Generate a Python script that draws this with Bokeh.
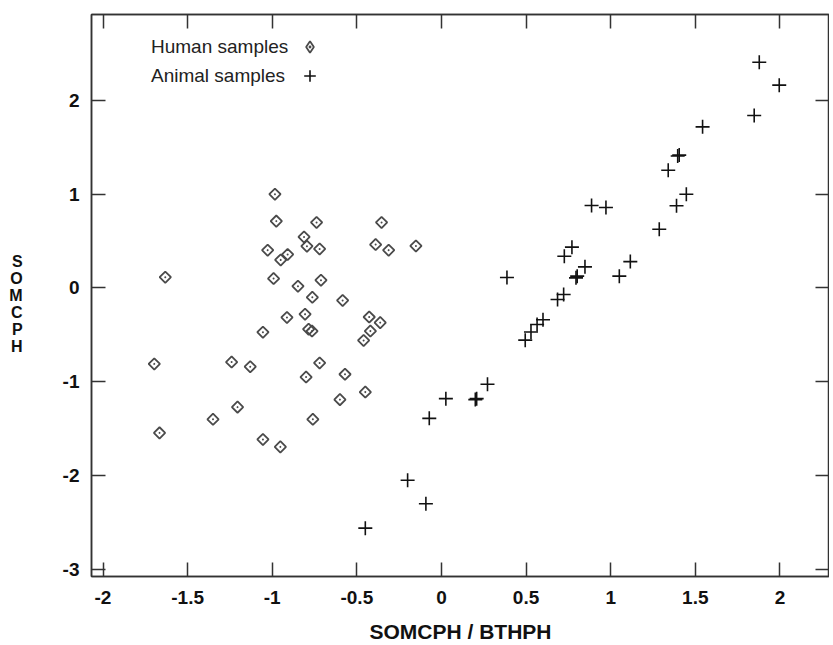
import numpy as np
from bokeh.plotting import figure
from bokeh.models import LinearAxis, FixedTicker, Range1d, Legend, LegendItem
from bokeh.embed import file_html
from bokeh.resources import INLINE

# ---- data ----
human_x = [-1.632, -1.697, -1.666, -1.350, -1.205, -1.240, -1.130, -1.055, -1.055, -1.027,
           -0.984, -0.976, -0.992, -0.950, -0.909, -0.952, -0.913, -0.848, -0.812, -0.795,
           -0.738, -0.720, -0.712, -0.763, -0.584, -0.806, -0.427, -0.362, -0.354, -0.389,
           -0.312, -0.151, -0.785, -0.765, -0.420, -0.460, -0.720, -0.800, -0.570, -0.450,
           -0.600, -0.760]
human_y = [0.114, -0.810, -1.545, -1.400, -1.270, -0.790, -0.840, -1.615, -0.472, 0.402,
           0.998, 0.711, 0.100, 0.298, 0.356, -1.694, -0.315, 0.018, 0.543, 0.444,
           0.697, 0.415, 0.082, -0.100, -0.134, -0.280, -0.310, -0.370, 0.697, 0.462,
           0.402, 0.447, -0.440, -0.460, -0.460, -0.560, -0.800, -0.950, -0.920, -1.110,
           -1.190, -1.400]

animal_x = [-0.450, -0.200, -0.092, -0.072, 0.026, 0.200, 0.208, 0.272, 0.387, 0.495,
            0.529, 0.565, 0.600, 0.686, 0.722, 0.726, 0.771, 0.795, 0.802, 0.848,
            0.887, 0.972, 1.051, 1.116, 1.287, 1.340, 1.389, 1.396, 1.405, 1.447,
            1.543, 1.848, 1.878, 1.996]
animal_y = [-2.560, -2.050, -2.300, -1.390, -1.180, -1.190, -1.180, -1.026, 0.111, -0.557,
            -0.470, -0.390, -0.340, -0.124, -0.070, 0.338, 0.434, 0.107, 0.125, 0.224,
            0.878, 0.857, 0.125, 0.280, 0.625, 1.254, 0.876, 1.405, 1.415, 0.997,
            1.716, 1.837, 2.405, 2.160]

x_ticks = [-2, -1.5, -1, -0.5, 0, 0.5, 1, 1.5, 2]
x_tick_labels = ["-2", "-1.5", "-1", "-0.5", "0", "0.5", "1", "1.5", "2"]
y_ticks = [-3, -2, -1, 0, 1, 2]
y_tick_labels = ["-3", "-2", "-1", "0", "1", "2"]

legend_labels = ["Human samples", "Animal samples"]
x_title = "SOMCPH / BTHPH"
y_title = "\nS\nO\nM\nC\nP\nH"

# ---- figure ----
FONT = "Liberation Sans"
INK = "#111111"
DIAMOND = "#4a4a4a"

p = figure(frame_width=738, frame_height=562,
           x_range=Range1d(-2.068, 2.293), y_range=Range1d(-3.075, 2.913),
           output_backend="svg", toolbar_location=None,
           min_border_left=91, min_border_top=14, min_border_right=0, min_border_bottom=66,
           background_fill_color="white", border_fill_color="white")
p.xgrid.visible = False
p.ygrid.visible = False
p.outline_line_color = "#333333"
p.outline_line_width = 1.5


def style_axis(ax, ticks, labels, standoff):
    ax.ticker = FixedTicker(ticks=ticks)
    ax.major_label_overrides = {float(t): l for t, l in zip(ticks, labels)}
    ax.major_tick_in = 14
    ax.major_tick_out = 0
    ax.minor_tick_line_color = None
    ax.axis_line_color = "#333333"
    ax.axis_line_width = 1.5
    ax.major_tick_line_color = "#333333"
    ax.major_tick_line_width = 1.5
    if standoff is not None:
        ax.major_label_text_font = FONT
        ax.major_label_text_font_style = "bold"
        ax.major_label_text_font_size = "19px"
        ax.major_label_text_color = INK
        ax.major_label_standoff = standoff
    else:
        ax.major_label_text_font_size = "0px"
        ax.major_label_standoff = 0


style_axis(p.xaxis[0], x_ticks, x_tick_labels, 14)
style_axis(p.yaxis[0], y_ticks, y_tick_labels, 12)

p.xaxis[0].axis_label = x_title
p.xaxis[0].axis_label_text_font = FONT
p.xaxis[0].axis_label_text_font_style = "bold"
p.xaxis[0].axis_label_text_font_size = "21px"
p.xaxis[0].axis_label_text_color = INK
p.xaxis[0].axis_label_standoff = 13

p.yaxis[0].axis_label = y_title
p.yaxis[0].axis_label_orientation = "horizontal"
p.yaxis[0].axis_label_text_font = FONT
p.yaxis[0].axis_label_text_font_style = "bold"
p.yaxis[0].axis_label_text_font_size = "16px"
p.yaxis[0].axis_label_text_line_height = 1.0
p.yaxis[0].axis_label_text_color = INK
p.yaxis[0].axis_label_standoff = 37

top_ax = LinearAxis()
style_axis(top_ax, x_ticks, x_tick_labels, None)
p.add_layout(top_ax, "above")
right_ax = LinearAxis()
style_axis(right_ax, y_ticks, y_tick_labels, None)
p.add_layout(right_ax, "right")

# ---- data glyphs ----
r_h = p.scatter(human_x, human_y, marker="square_dot", size=8, angle=np.pi / 4,
                fill_color=None, line_color=DIAMOND, line_width=1.8)
r_a = p.scatter(animal_x, animal_y, marker="cross", size=14,
                line_color=INK, line_width=1.6)
# legend key for the human samples: same data, drawn only in the legend
# (kept muted with zero alpha on the plot, because legends do not rotate markers)
r_h_key = p.scatter(human_x, human_y, marker="diamond_dot", size=10,
                    fill_color=None, line_color=DIAMOND, line_width=1.8,
                    muted_alpha=0)
r_h_key.muted = True

# ---- legend: text column and marker column ----
common = dict(padding=0, margin=0, border_line_color=None, background_fill_alpha=0,
              glyph_height=29, label_height=29, spacing=0, label_standoff=0,
              label_text_font=FONT, label_text_font_size="19px", label_text_color="#222222")
leg_text = Legend(items=[LegendItem(label=legend_labels[0], renderers=[r_h]),
                         LegendItem(label=legend_labels[1], renderers=[r_a])],
                  location=(60, 486), glyph_width=0, **common)
leg_mark = Legend(items=[LegendItem(label=" ", renderers=[r_h_key]),
                         LegendItem(label=" ", renderers=[r_a])],
                  location=(204, 486), glyph_width=29, **common)
p.add_layout(leg_text)
p.add_layout(leg_mark)

open("out.html", "w").write(file_html(p, INLINE))
